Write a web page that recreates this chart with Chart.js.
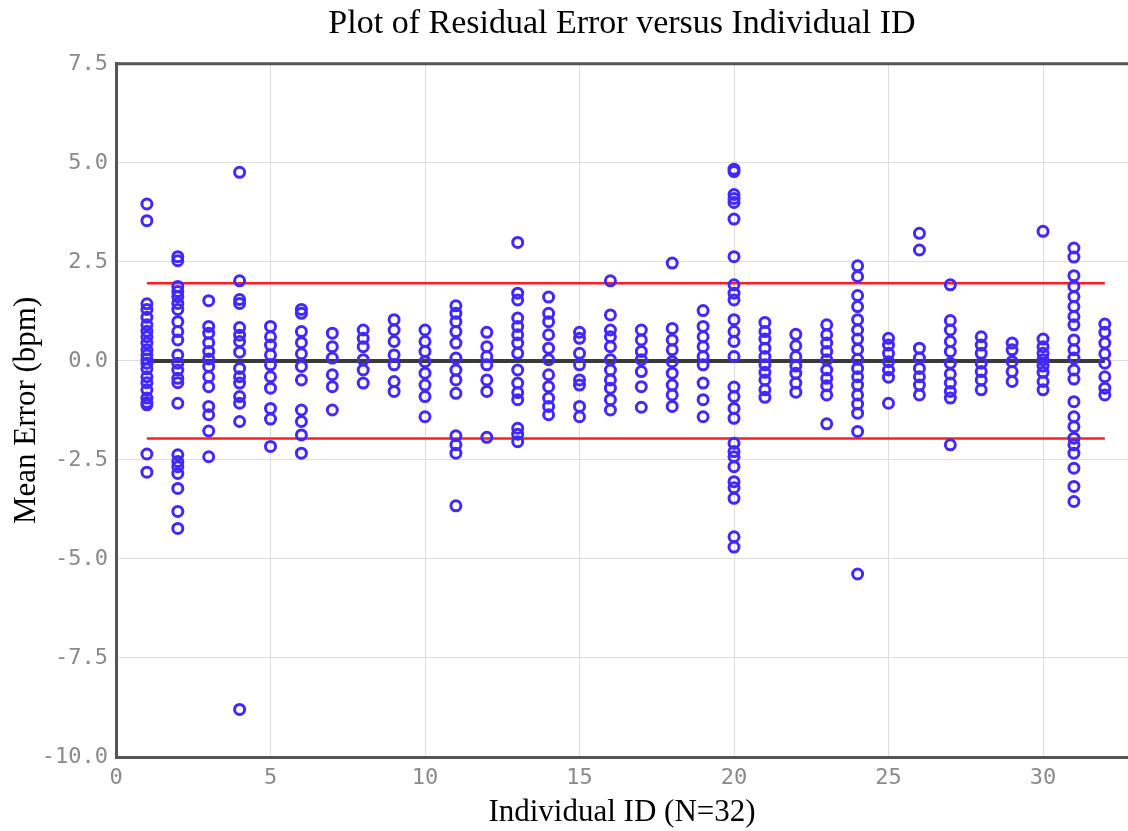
<!DOCTYPE html>
<html lang="en">
<head>
    <meta charset="UTF-8">
    <title>Residual Error versus Individual ID</title>
    <script src="https://cdn.jsdelivr.net/npm/chart.js"></script>
    <style>
        html, body {
            margin: 0;
            padding: 0;
            background: #ffffff;
        }
        .chart-box {
            width: 1128px;
            height: 831px;
        }
    </style>
</head>
<body>
    <div class="chart-box">
        <canvas id="residualChart"></canvas>
    </div>

    <script>
        // Individual IDs (x axis)
        const individualIds = [1, 2, 3, 4, 5, 6, 7, 8, 9, 10, 11, 12, 13, 14, 15, 16,
                               17, 18, 19, 20, 21, 22, 23, 24, 25, 26, 27, 28, 29, 30, 31, 32];

        // residual errors (bpm), one list per individual
        const residuals = [
            [3.96, 3.54, 1.44, 1.3, 1.1, 0.91, 0.75, 0.61, 0.45, 0.28, 0.15, 0.05, -0.06, -0.2, -0.4, -0.55, -0.73, -0.94, -1.05, -1.11, -2.35, -2.81],
            [2.63, 2.53, 1.88, 1.75, 1.62, 1.45, 1.3, 0.99, 0.74, 0.53, 0.15, -0.06, -0.23, -0.44, -0.55, -1.07, -2.37, -2.54, -2.67, -2.84, -3.22, -3.8, -4.23],
            [1.52, 0.87, 0.7, 0.46, 0.24, 0.05, -0.14, -0.4, -0.65, -1.15, -1.36, -1.77, -2.42],
            [4.76, 2.02, 1.55, 1.45, 0.84, 0.65, 0.49, 0.22, -0.19, -0.4, -0.56, -0.9, -1.07, -1.53, -8.8],
            [0.87, 0.61, 0.4, 0.15, -0.1, -0.4, -0.69, -1.2, -1.47, -2.16],
            [1.3, 1.2, 0.74, 0.46, 0.18, -0.14, -0.48, -1.24, -1.53, -1.87, -2.33],
            [0.7, 0.36, 0.07, -0.35, -0.65, -1.24],
            [0.78, 0.57, 0.36, 0.03, -0.23, -0.56],
            [1.04, 0.78, 0.49, 0.15, -0.1, -0.52, -0.77],
            [0.78, 0.49, 0.24, -0.02, -0.31, -0.61, -0.9, -1.41],
            [1.39, 1.2, 0.99, 0.74, 0.45, 0.07, -0.23, -0.48, -0.82, -1.89, -2.12, -2.33, -3.66],
            [0.72, 0.36, 0.11, -0.1, -0.48, -0.77, -1.93],
            [2.99, 1.71, 1.54, 1.08, 0.87, 0.66, 0.45, 0.19, -0.23, -0.56, -0.8, -0.98, -1.7, -1.85, -2.04],
            [1.61, 1.2, 0.99, 0.66, 0.32, 0.03, -0.35, -0.65, -0.94, -1.15, -1.36],
            [0.72, 0.57, 0.19, -0.1, -0.48, -0.61, -1.15, -1.41],
            [2.02, 1.16, 0.78, 0.61, 0.36, 0.03, -0.23, -0.48, -0.69, -0.98, -1.24],
            [0.78, 0.53, 0.24, 0.03, -0.27, -0.65, -1.17],
            [2.47, 0.82, 0.53, 0.28, -0.02, -0.31, -0.61, -0.86, -1.15],
            [1.27, 0.87, 0.61, 0.36, 0.11, -0.1, -0.56, -0.98, -1.41],
            [4.84, 4.78, 4.2, 4.1, 4.0, 3.58, 2.63, 1.92, 1.71, 1.54, 1.04, 0.74, 0.49, 0.11, -0.66, -0.9, -1.2, -1.45, -2.08, -2.29, -2.42, -2.67, -3.05, -3.2, -3.47, -4.44, -4.7],
            [0.97, 0.74, 0.55, 0.32, 0.11, -0.1, -0.29, -0.48, -0.73, -0.92],
            [0.67, 0.38, 0.11, -0.13, -0.31, -0.56, -0.79],
            [0.91, 0.66, 0.45, 0.24, 0.03, -0.23, -0.44, -0.63, -0.86, -1.59],
            [2.4, 2.13, 1.65, 1.37, 1.04, 0.78, 0.55, 0.29, 0.04, -0.19, -0.4, -0.61, -0.86, -1.09, -1.32, -1.78, -5.38],
            [0.57, 0.4, 0.19, -0.02, -0.23, -0.41, -1.07],
            [3.22, 2.8, 0.32, 0.07, -0.19, -0.4, -0.61, -0.86],
            [1.92, 1.02, 0.78, 0.49, 0.24, -0.06, -0.33, -0.56, -0.77, -0.94, -2.12],
            [0.61, 0.4, 0.19, -0.06, -0.27, -0.48, -0.73],
            [0.45, 0.28, -0.02, -0.27, -0.52],
            [3.27, 0.55, 0.36, 0.19, 0.03, -0.13, -0.29, -0.52, -0.73],
            [2.85, 2.62, 2.15, 1.88, 1.62, 1.37, 1.12, 0.91, 0.53, 0.28, 0.07, -0.23, -0.46, -1.03, -1.41, -1.66, -1.95, -2.12, -2.33, -2.71, -3.17, -3.55],
            [0.93, 0.72, 0.45, 0.18, -0.06, -0.4, -0.69, -0.86]
        ];

        // reference lines
        const meanError = 0;
        const upperLimit = 1.96;
        const lowerLimit = -1.96;
        const lineStart = 1;
        const lineEnd = 32;

        // axis ticks
        const xTickStep = 5;
        const yTickStep = 2.5;

        const scatterPoints = [];
        individualIds.forEach((id, i) => {
            residuals[i].forEach(v => scatterPoints.push({ x: id, y: v }));
        });

        // top frame line (the reference draws a box round the plot)
        const frameTop = {
            id: 'frameTop',
            afterDraw(chart) {
                const { ctx, chartArea } = chart;
                ctx.save();
                ctx.strokeStyle = '#555555';
                ctx.lineWidth = 3;
                ctx.beginPath();
                ctx.moveTo(chartArea.left, chartArea.top);
                ctx.lineTo(chartArea.right, chartArea.top);
                ctx.stroke();
                ctx.restore();
            }
        };

        const tickFont = { family: '"DejaVu Sans Mono", monospace', size: 22 };
        const serifFamily = '"Liberation Serif", "Times New Roman", serif';

        const ctx = document.getElementById('residualChart').getContext('2d');
        const residualChart = new Chart(ctx, {
            type: 'scatter',
            data: {
                datasets: [
                    {
                        label: 'Residual error',
                        data: scatterPoints,
                        showLine: false,
                        pointRadius: 5,
                        pointBorderWidth: 3,
                        pointBorderColor: 'rgb(65, 40, 255)',
                        pointBackgroundColor: 'rgba(0, 0, 0, 0)',
                        order: 0
                    },
                    {
                        label: 'Mean',
                        data: [{ x: lineStart, y: meanError }, { x: lineEnd, y: meanError }],
                        showLine: true,
                        borderColor: '#3a3a3a',
                        borderWidth: 4,
                        pointRadius: 0,
                        order: 1
                    },
                    {
                        label: 'Upper limit',
                        data: [{ x: lineStart, y: upperLimit }, { x: lineEnd, y: upperLimit }],
                        showLine: true,
                        borderColor: 'rgb(255, 30, 30)',
                        borderWidth: 2.5,
                        pointRadius: 0,
                        order: 1
                    },
                    {
                        label: 'Lower limit',
                        data: [{ x: lineStart, y: lowerLimit }, { x: lineEnd, y: lowerLimit }],
                        showLine: true,
                        borderColor: 'rgb(255, 30, 30)',
                        borderWidth: 2.5,
                        pointRadius: 0,
                        order: 1
                    }
                ]
            },
            options: {
                responsive: true,
                maintainAspectRatio: false,
                animation: false,
                layout: { autoPadding: false, padding: 0 },
                plugins: {
                    legend: { display: false },
                    tooltip: { enabled: false },
                    title: {
                        display: true,
                        text: 'Plot of Residual Error versus Individual ID',
                        color: '#000000',
                        fullSize: false,
                        font: { family: serifFamily, size: 34, weight: 'normal' },
                        padding: { top: 4, bottom: 19 }
                    }
                },
                scales: {
                    x: {
                        type: 'linear',
                        min: 0,
                        max: 32.75,
                        afterFit(scale) { scale.height = 74; },
                        ticks: {
                            stepSize: xTickStep,
                            includeBounds: false,
                            color: '#8a8a8a',
                            font: tickFont,
                            padding: 8
                        },
                        grid: { color: '#dddddd', lineWidth: 1, drawTicks: false },
                        border: { color: '#555555', width: 3 },
                        title: {
                            display: true,
                            text: 'Individual ID (N=32)',
                            color: '#000000',
                            font: { family: serifFamily, size: 31 },
                            padding: { top: 0, bottom: 0 }
                        }
                    },
                    y: {
                        type: 'linear',
                        min: -10,
                        max: 7.5,
                        afterFit(scale) { scale.width = 116; },
                        ticks: {
                            stepSize: yTickStep,
                            color: '#8a8a8a',
                            font: tickFont,
                            padding: 8,
                            callback: v => v.toFixed(1)
                        },
                        grid: { color: '#dddddd', lineWidth: 1, drawTicks: false },
                        border: { color: '#555555', width: 3 },
                        title: {
                            display: true,
                            text: 'Mean Error (bpm)',
                            color: '#000000',
                            font: { family: serifFamily, size: 31 },
                            padding: { top: 8, bottom: 0 }
                        }
                    }
                }
            },
            plugins: [frameTop]
        });
    </script>
</body>
</html>
